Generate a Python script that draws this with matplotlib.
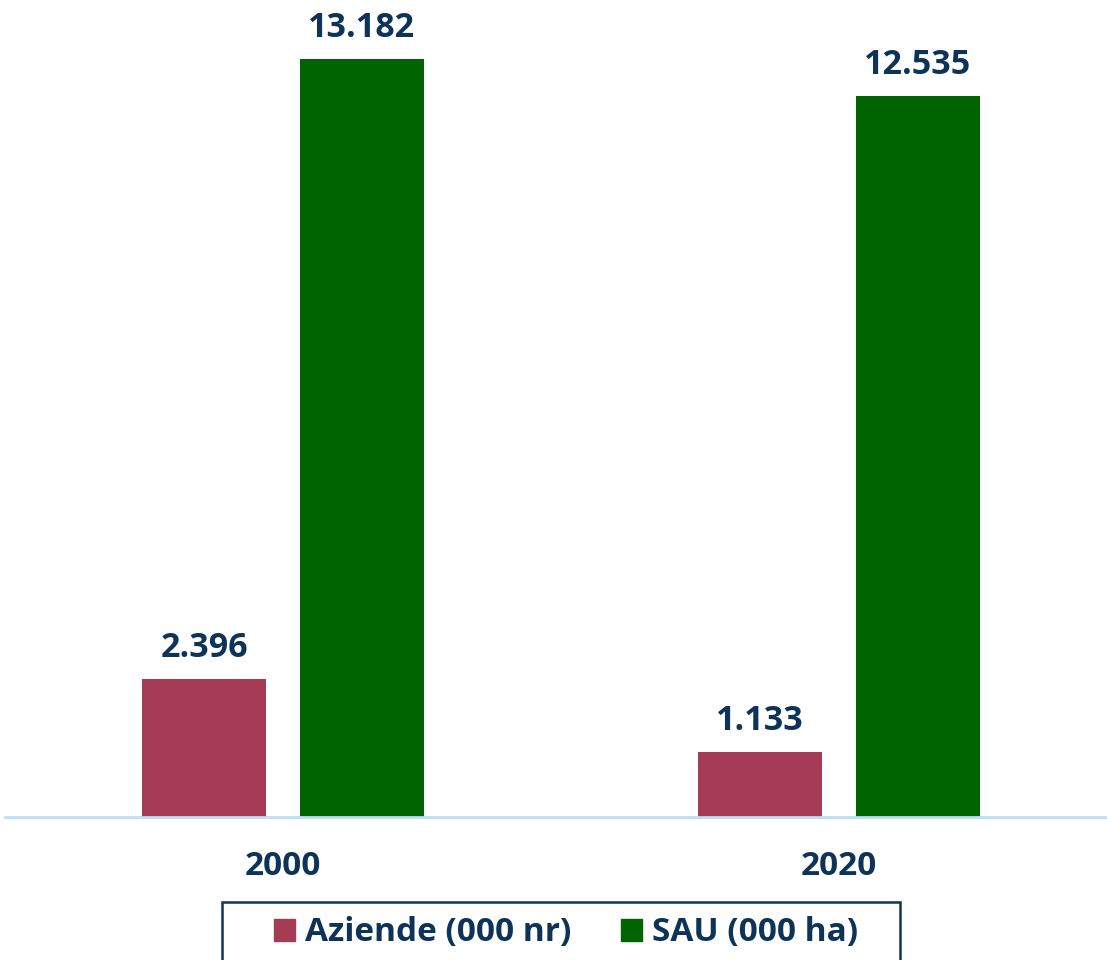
import matplotlib
matplotlib.use("Agg")
import matplotlib.pyplot as plt
import numpy as np
from matplotlib.patches import Patch, Rectangle

# data (values in thousands, shown with Italian separator)
years = ["2000", "2020"]
aziende = [2.396, 1.133]
sau = [13.182, 12.535]
series_names = ["Aziende (000 nr)", "SAU (000 ha)"]

c_az = "#A53B55"
c_sau = "#006400"
c_txt = "#0D3358"
c_axis = "#BDDFF5"

plt.rcParams["font.family"] = ["Open Sans", "DejaVu Sans"]
plt.rcParams["font.weight"] = "bold"

W, H = 1107, 960
fig = plt.figure(figsize=(W / 100, H / 100), dpi=100)
ax = fig.add_axes([5 / W, 143 / H, 1102 / W, 817 / H])

x = np.arange(len(years))
w = 0.223
off = 0.142
b1 = ax.bar(x - off, aziende, w, color=c_az, label=series_names[0])
b2 = ax.bar(x + off, sau, w, color=c_sau, label=series_names[1])

fmt = lambda v: f"{v:.3f}"
for bars, vals in [(b1, aziende), (b2, sau)]:
    ax.bar_label(bars, labels=[fmt(v) for v in vals], padding=10,
                 fontsize=24.5, fontweight="bold", color=c_txt)

ax.set_xlim(-0.5, 1.482)
ax.set_ylim(0, 13.182 * 817 / 758)
ax.set_xticks(x)
ax.set_xticklabels(years, fontsize=24, fontweight="bold", color=c_txt)
ax.tick_params(axis="x", length=0, pad=24)
ax.set_yticks([])
for s in ["left", "right", "top"]:
    ax.spines[s].set_visible(False)
ax.spines["bottom"].set_color(c_axis)
ax.spines["bottom"].set_linewidth(2)

# legend box (runs off the bottom edge)
fig.patches.append(Rectangle((222 / W, -10 / H), (900 - 222) / W, (58 + 10) / H,
                             transform=fig.transFigure, fill=False,
                             edgecolor=c_txt, linewidth=1.8))
handles = [Patch(color=c_az), Patch(color=c_sau)]
fig.legend(handles, series_names, loc="center", bbox_to_anchor=(566 / W, 27 / H),
           ncol=2, frameon=False, fontsize=24, labelcolor=c_txt,
           handlelength=0.63, handleheight=0.63, handletextpad=0.3,
           columnspacing=1.5, borderpad=0)

fig.savefig("out.png", dpi=100)
